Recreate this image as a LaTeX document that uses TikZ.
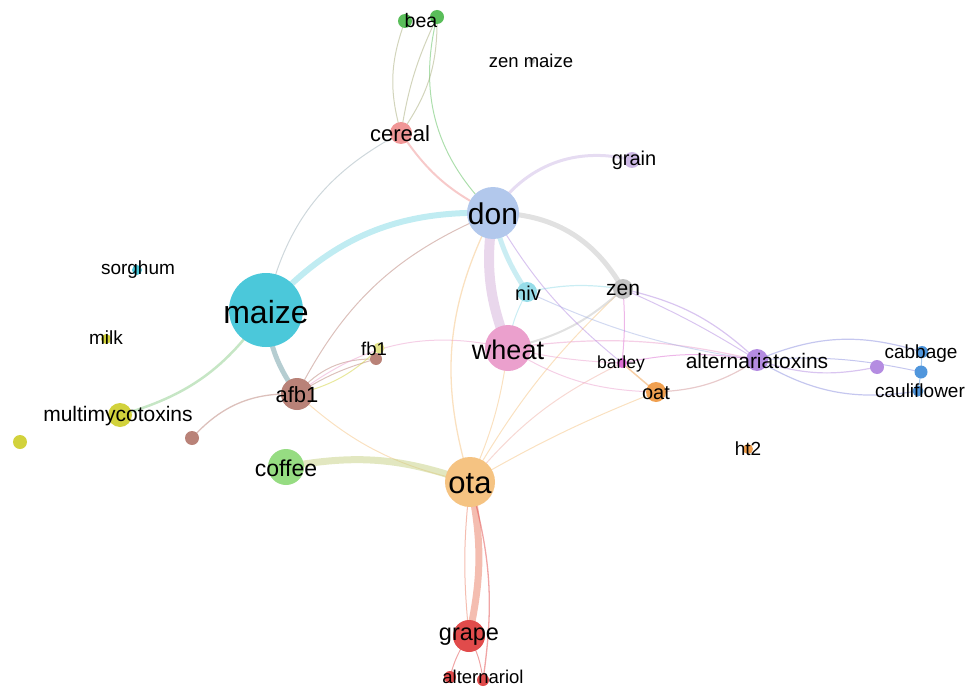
\documentclass[tikz,border=0pt]{standalone}
\usepackage{fontspec}
\setmainfont{Liberation Sans}
\usetikzlibrary{backgrounds}
\definecolor{cMaize}{RGB}{75,200,218}
\definecolor{cDon}{RGB}{178,200,236}
\definecolor{cWheat}{RGB}{235,160,205}
\definecolor{cOta}{RGB}{245,195,130}
\definecolor{cAfb}{RGB}{185,130,120}
\definecolor{cCoffee}{RGB}{150,220,130}
\definecolor{cCereal}{RGB}{240,150,150}
\definecolor{cGrain}{RGB}{205,185,230}
\definecolor{cNiv}{RGB}{150,220,232}
\definecolor{cZen}{RGB}{195,195,195}
\definecolor{cBarley}{RGB}{220,110,210}
\definecolor{cOat}{RGB}{240,160,80}
\definecolor{cAlt}{RGB}{180,140,225}
\definecolor{cBlue}{RGB}{80,150,220}
\definecolor{cYel}{RGB}{210,210,60}
\definecolor{cGrape}{RGB}{225,75,75}
\definecolor{cBea}{RGB}{90,190,90}
\begin{document}
\begin{tikzpicture}[x=1pt,y=-1pt,
  dot/.style={circle,inner sep=0pt,draw=none,fill=#1},
  lbl/.style={font=\fontsize{#1}{#1}\selectfont,text=black,inner sep=0pt},
  edge/.style={draw=#1,draw opacity=0.5,line width=1pt}]
\useasboundingbox (0,0) rectangle (965,687);
% nodes (circles)
\node[dot=cMaize,minimum size=74pt] (maize) at (266,310) {};
\node[dot=cDon,minimum size=52pt] (don) at (493,213) {};
\node[dot=cWheat,minimum size=46pt] (wheat) at (508,348) {};
\node[dot=cOta,minimum size=50pt] (ota) at (470,482) {};
\node[dot=cAfb,minimum size=32pt] (afb) at (297,394) {};
\node[dot=cCoffee,minimum size=36pt] (coffee) at (286,467) {};
\node[dot=cCereal,minimum size=22pt] (cereal) at (401,133) {};
\node[dot=cGrain,minimum size=16pt] (grain) at (632,160) {};
\node[dot=cNiv,minimum size=20pt] (niv) at (527,292) {};
\node[dot=cZen,minimum size=20pt] (zen) at (623,289) {};
\node[dot=cBarley,minimum size=10pt] (barley) at (622,363) {};
\node[dot=cAlt,minimum size=22pt] (alt) at (757,360) {};
\node[dot=cAlt,minimum size=14pt] (altb) at (877,367) {};
\node[dot=cOat,minimum size=20pt] (oat) at (656,392) {};
\node[dot=cBlue,minimum size=12pt] (cabbage) at (922,352) {};
\node[dot=cBlue,minimum size=13pt] (cauA) at (921,372) {};
\node[dot=cBlue,minimum size=11pt] (cauB) at (918,391) {};
\node[dot=cYel,minimum size=24pt] (multi) at (120,415) {};
\node[dot=cYel,minimum size=14pt] (yel) at (20,442) {};
\node[dot=cAfb,minimum size=14pt] (brown) at (192,438) {};
\node[dot=cGrape,minimum size=32pt] (grape) at (469,636) {};
\node[dot=cGrape,minimum size=12pt] (alA) at (450,677) {};
\node[dot=cGrape,minimum size=12pt] (alB) at (483,680) {};
\node[dot=cBea,minimum size=14pt] (beaA) at (405,21) {};
\node[dot=cBea,minimum size=14pt] (beaB) at (437,17) {};
\node[dot=cMaize,minimum size=10pt] (sorghum) at (137,270) {};
\node[dot=cYel,minimum size=10pt] (milk) at (106,339) {};
\node[dot=cYel!60,minimum size=11pt] (fbY) at (379,348) {};
\node[dot=cAfb,minimum size=12pt] (fb) at (376,359) {};
\node[dot=cOat,minimum size=10pt] (ht) at (748,449) {};
\node[dot=cZen,minimum size=6pt] (zm) at (532,61) {};
% edges
\begin{scope}[on background layer]
\draw[edge=cMaize!70,line width=6pt] (maize.center) to[bend left=25] (don.center);
\draw[edge=cMaize!50!cCereal] (maize.center) to[bend left=25] (cereal.center);
\draw[edge=cMaize!40!gray,line width=5pt] (maize.center) to[bend right=15] (afb.center);
\draw[edge=cMaize!50!cYel,line width=2.5pt] (maize.center) to[bend left=20] (multi.center);
\draw[edge=cAfb] (afb.center) to[bend left=20] (don.center);
\draw[edge=cAfb] (afb.center) to[bend left=25] (fb.center);
\draw[edge=cAfb] (afb.center) to[bend left=8] (fb.center);
\draw[edge=cYel] (afb.center) to[bend right=15] (fbY.center);
\draw[edge=cWheat] (afb.center) to[bend left=25] (wheat.center);
\draw[edge=cAfb,line width=1.3pt] (afb.center) to[bend right=25] (brown.center);
\draw[edge=cOta] (afb.center) to[bend right=15] (ota.center);
\draw[edge=cCoffee!50!cOta,line width=7pt] (coffee.center) to[bend left=15] (ota.center);
\draw[edge=cGrape!60!cOta,line width=7pt] (ota.center) to[bend left=12] (grape.center);
\draw[edge=cGrape!60!cOta] (ota.center) to[bend right=6] (grape.center);
\draw[edge=cGrape,line width=1.3pt] (ota.center) to[bend left=12] (alB.center);
\draw[edge=cGrape] (grape.center) to[bend left=10] (alB.center);
\draw[edge=cGrape] (grape.center) to[bend right=10] (alA.center);
\draw[edge=cOta,line width=1.3pt] (ota.center) to[bend left=22] (don.center);
\draw[edge=cOta] (ota.center) to[bend right=8] (wheat.center);
\draw[edge=cOta!50!cWheat] (ota.center) to[bend left=12] (barley.center);
\draw[edge=cOta] (ota.center) to[bend left=4] (oat.center);
\draw[edge=cOta] (ota.center) to[bend left=8] (zen.center);
\draw[edge=cWheat!60!cDon,line width=10pt] (don.center) to[bend right=15] (wheat.center);
\draw[edge=cNiv,line width=5pt] (don.center) to[bend right=10] (niv.center);
\draw[edge=cZen,line width=5pt] (don.center) to[bend left=30] (zen.center);
\draw[edge=cGrain,line width=3pt] (don.center) to[bend left=35] (grain.center);
\draw[edge=cCereal,line width=2pt] (don.center) to[bend left=15] (cereal.center);
\draw[edge=cBea] (don.center) to[bend left=30] (beaB.center);
\draw[edge=cBea!50!cCereal] (cereal.center) to[bend left=18] (beaA.center);
\draw[edge=cBea!50!cCereal] (cereal.center) to[bend right=18] (beaB.center);
\draw[edge=cBea!50!cCereal] (cereal.center) to[bend left=8] (beaB.center);
\draw[edge=cWheat,line width=1.2pt] (wheat.center) to[bend left=10] (alt.center);
\draw[edge=cWheat] (wheat.center) to[bend right=5] (barley.center);
\draw[edge=cWheat] (wheat.center) to[bend right=15] (oat.center);
\draw[edge=cZen,line width=2pt] (wheat.center) to[bend right=15] (zen.center);
\draw[edge=cNiv] (wheat.center) to[bend left=10] (niv.center);
\draw[edge=cNiv,line width=1.2pt] (niv.center) to[bend left=10] (zen.center);
\draw[edge=cNiv!50!cAlt] (niv.center) to[bend right=8] (alt.center);
\draw[edge=cAlt] (don.center) to[bend right=10] (barley.center);
\draw[edge=cAlt,line width=1.2pt] (zen.center) to[bend left=15] (alt.center);
\draw[edge=cAlt] (zen.center) to[bend left=4] (alt.center);
\draw[edge=cBarley] (zen.center) to[bend left=5] (barley.center);
\draw[edge=cOat,line width=1.5pt] (barley.center) to (oat.center);
\draw[edge=cBarley] (barley.center) to[bend left=10] (alt.center);
\draw[edge=cOat!50!cAlt,line width=1.2pt] (oat.center) to[bend right=15] (alt.center);
\draw[edge=cAlt!60!cBlue,line width=1.2pt] (alt.center) to[bend left=20] (cabbage.center);
\draw[edge=cAlt!60!cBlue] (alt.center) to[bend left=8] (cauA.center);
\draw[edge=cAlt!60!cBlue,line width=1.2pt] (alt.center) to[bend right=20] (cauB.center);
\draw[edge=cAlt,line width=1.2pt] (alt.center) to[bend right=15] (altb.center);
\draw[edge=cBlue] (cabbage.center) to (cauA.center);
\draw[edge=cBlue] (cauA.center) to (cauB.center);
\end{scope}
% labels
\node[lbl=32] (maizeL) at (266,312) {maize};
\node[lbl=30] (donL) at (493,214) {don};
\node[lbl=27] (wheatL) at (508,350) {wheat};
\node[lbl=31] (otaL) at (470,484) {ota};
\node[lbl=22] (afbL) at (297,395) {afb1};
\node[lbl=23] (coffeeL) at (286,468) {coffee};
\node[lbl=22] (cerealL) at (400,134) {cereal};
\node[lbl=20] (grainL) at (634,160) {grain};
\node[lbl=20] (nivL) at (528,293) {niv};
\node[lbl=21] (zenL) at (623,290) {zen};
\node[lbl=17.5] (barleyL) at (621,364) {barley};
\node[lbl=21] (altL) at (757,361) {alternariatoxins};
\node[lbl=20] (oatL) at (656,393) {oat};
\node[lbl=19] (cabbageL) at (921,354) {cabbage};
\node[lbl=19] (cauL) at (920,391) {cauliflower};
\node[lbl=21] (multiL) at (118,416) {multimycotoxins};
\node[lbl=23.5] (grapeL) at (469,637) {grape};
\node[lbl=18.5] (alL) at (483,677) {alternariol};
\node[lbl=19.5] (beaL) at (421,21) {bea};
\node[lbl=18.5] (zmL) at (531,61) {zen maize};
\node[lbl=19] (sorghumL) at (138,270) {sorghum};
\node[lbl=19] (milkL) at (106,338) {milk};
\node[lbl=18.5] (fbL) at (374,349) {fb1};
\node[lbl=19] (htL) at (748,449) {ht2};
\end{tikzpicture}
\end{document}
